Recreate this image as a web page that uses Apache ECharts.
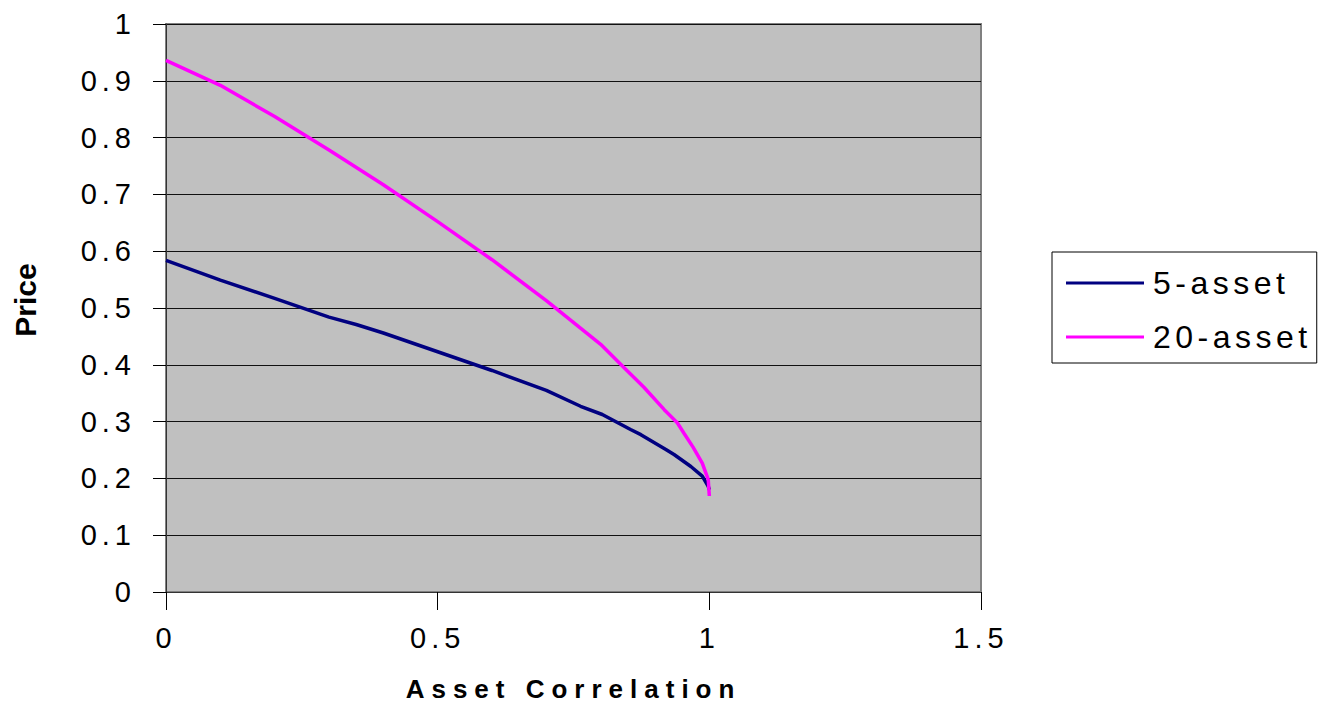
<!DOCTYPE html>
<html>
<head>
<meta charset="utf-8">
<script src="https://cdn.jsdelivr.net/npm/echarts@6/dist/echarts.min.js"></script>
<style>
  html, body { margin: 0; padding: 0; background: #ffffff; }
  #chart { width: 1318px; height: 715px; }
</style>
</head>
<body>
<div id="chart"></div>
<script>
// Basket option price against asset correlation
const seriesNames = ['5-asset', '20-asset'];

const corr5  = [0, 0.1, 0.2, 0.3, 0.35, 0.4, 0.5, 0.6, 0.7, 0.763, 0.803, 0.855, 0.874, 0.92, 0.935, 0.966, 0.987, 0.998, 1];
const price5 = [0.584, 0.549, 0.517, 0.484, 0.471, 0.456, 0.423, 0.39, 0.355, 0.327, 0.3125, 0.286, 0.277, 0.251, 0.242, 0.221, 0.204, 0.186, 0.18];

const corr20  = [0, 0.1, 0.2, 0.3, 0.4, 0.5, 0.6, 0.7, 0.8, 0.84, 0.88, 0.917, 0.941, 0.953, 0.97, 0.987, 0.998, 1];
const price20 = [0.936, 0.892, 0.837, 0.778, 0.717, 0.652, 0.585, 0.513, 0.436, 0.398, 0.36, 0.321, 0.298, 0.28, 0.255, 0.227, 0.198, 0.169];

const xTickLabels = ['0', '0.5', '1', '1.5'];
const yTickLabels = ['0', '0.1', '0.2', '0.3', '0.4', '0.5', '0.6', '0.7', '0.8', '0.9', '1'];

const xTitle = 'Asset Correlation';
const yTitle = 'Price';

const FONT = 'Arial, "Liberation Sans", sans-serif';

function pairs(xs, ys) { return xs.map((x, i) => [x, ys[i]]); }

const chart = echarts.init(document.getElementById('chart'), null, { renderer: 'svg' });

chart.setOption({
  animation: false,
  backgroundColor: '#ffffff',
  grid: {
    left: 166, right: 337, top: 24, bottom: 123,
    show: true,
    backgroundColor: '#C0C0C0',
    borderColor: '#808080',
    borderWidth: 2
  },
  legend: {
    orient: 'vertical',
    left: 1052, top: 252,
    padding: [15, 41, 10, 14],
    icon: 'rect',
    itemWidth: 78, itemHeight: 3, itemGap: 22,
    borderColor: '#000000', borderWidth: 1,
    selectedMode: false,
    textStyle: { fontFamily: FONT, fontSize: 32, lineHeight: 32, color: '#000', padding: [0, 0, 0, 4] },
    data: seriesNames
  },
  xAxis: {
    type: 'value',
    min: 0, max: 1.5, interval: 0.5,
    name: xTitle,
    nameLocation: 'middle',
    nameGap: 84,
    nameTextStyle: { fontFamily: FONT, fontSize: 26, fontWeight: 'bold', color: '#000' },
    axisLine: { show: true, onZero: false, lineStyle: { color: '#333', width: 1 } },
    axisTick: { show: true, length: 18, lineStyle: { color: '#000', width: 1 } },
    axisLabel: {
      margin: 31, fontFamily: FONT, fontSize: 29, color: '#000',
      formatter: v => xTickLabels[Math.round(v / 0.5)]
    },
    splitLine: { show: false }
  },
  yAxis: {
    type: 'value',
    min: 0, max: 1, interval: 0.1,
    name: yTitle,
    nameLocation: 'middle',
    nameRotate: 90,
    nameGap: 126,
    nameTextStyle: { fontFamily: FONT, fontSize: 30, fontWeight: 'bold', color: '#000', padding: [0, 0, 0, 16] },
    axisLine: { show: true, onZero: false, lineStyle: { color: '#333', width: 1 } },
    axisTick: { show: true, length: 13, lineStyle: { color: '#000', width: 1 } },
    axisLabel: {
      margin: 30, fontFamily: FONT, fontSize: 29, color: '#000',
      formatter: v => yTickLabels[Math.round(v / 0.1)]
    },
    splitLine: { show: true, lineStyle: { color: '#111', width: 1 } }
  },
  series: [
    {
      name: seriesNames[0], type: 'line', data: pairs(corr5, price5),
      symbol: 'none', silent: true,
      lineStyle: { color: '#000080', width: 3.5 }, itemStyle: { color: '#000080' }
    },
    {
      name: seriesNames[1], type: 'line', data: pairs(corr20, price20),
      symbol: 'none', silent: true,
      lineStyle: { color: '#FF00FF', width: 3.5 }, itemStyle: { color: '#FF00FF' }
    }
  ]
});

// Wide letter spacing on the axis, legend and title text
function spaceText() {
  chart.getDom().querySelectorAll('text').forEach(t => {
    const s = t.textContent.trim();
    let ls = null;
    if (s === xTitle) ls = 7;
    else if (seriesNames.includes(s)) ls = 4.5;
    else if (xTickLabels.includes(s) || yTickLabels.includes(s)) ls = 5;
    if (ls !== null) t.style.letterSpacing = ls + 'px';
  });
}
chart.on('finished', spaceText);
setTimeout(spaceText, 50);
</script>
</body>
</html>
